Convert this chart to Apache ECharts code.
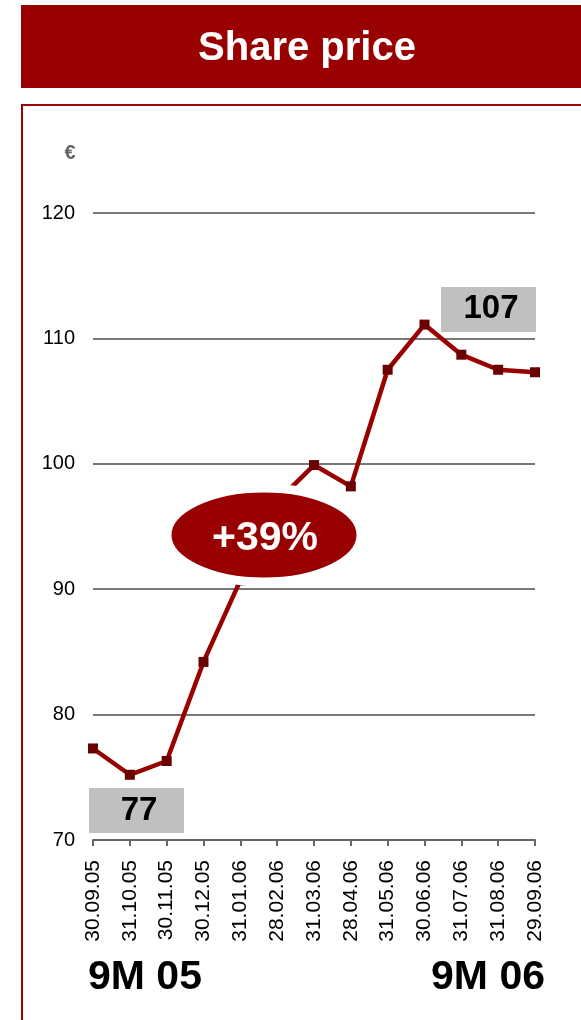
<!DOCTYPE html>
<html>
<head>
<meta charset="utf-8">
<script src="https://cdn.jsdelivr.net/npm/echarts@6/dist/echarts.min.js"></script>
<style>
  html, body { margin: 0; padding: 0; background: #fff; }
  #chart { width: 581px; height: 1020px; }
</style>
</head>
<body>
<div id="chart"></div>
<script>
// month-end closing prices, 9M 05 -> 9M 06
var dates = ['30.09.05', '31.10.05', '30.11.05', '30.12.05', '31.01.06', '28.02.06', '31.03.06',
             '28.04.06', '31.05.06', '30.06.06', '31.07.06', '31.08.06', '29.09.06'];
var prices = [77.3, 75.2, 76.3, 84.2, 90.7, 97.0, 99.9, 98.2, 107.5, 111.1, 108.7, 107.5, 107.3];
var yTicks = [70, 80, 90, 100, 110, 120];
var startLabel = '77';
var endLabel = '107';
var changeLabel = '+39%';

var red = '#990000';
var font = '"Liberation Sans", Arial, Helvetica, sans-serif';

var myChart = echarts.init(document.getElementById('chart'));
myChart.setOption({
    animation: false,
    textStyle: { fontFamily: font },
    grid: { left: 93, right: 46, top: 213, bottom: 180, containLabel: false },
    xAxis: {
        type: 'category',
        data: dates,
        boundaryGap: false,
        axisLine: { lineStyle: { color: '#666', width: 2 } },
        axisTick: { length: 6, lineStyle: { color: '#666', width: 2 } },
        axisLabel: { rotate: 90, fontSize: 21, color: '#000', margin: 20, interval: 0, fontFamily: font }
    },
    yAxis: {
        type: 'value',
        min: yTicks[0],
        max: yTicks[yTicks.length - 1],
        interval: 10,
        axisLine: { show: false },
        axisTick: { show: false },
        axisLabel: { fontSize: 20, color: '#000', margin: 18, fontFamily: font },
        splitLine: { lineStyle: { color: '#777', width: 2 } }
    },
    series: [{
        type: 'line',
        data: prices,
        symbol: 'rect',
        symbolSize: 10,
        lineStyle: { color: red, width: 4.5 },
        itemStyle: { color: '#6b0000' },
        z: 3
    }],
    graphic: [
        // title banner
        { type: 'rect', shape: { x: 21, y: 5, width: 570, height: 83 }, style: { fill: red } },
        { type: 'text', x: 307, y: 49, style: { text: 'Share price', fill: '#fff', font: 'bold 40px ' + font, textAlign: 'center', textVerticalAlign: 'middle' } },
        // chart frame
        { type: 'rect', shape: { x: 22, y: 105, width: 600, height: 1000 }, style: { fill: 'none', stroke: '#a00000', lineWidth: 2 } },
        { type: 'text', x: 70, y: 153, style: { text: '€', fill: '#666', font: 'bold 20px ' + font, textAlign: 'center', textVerticalAlign: 'middle' } },
        // value boxes
        { type: 'rect', shape: { x: 89, y: 788, width: 95, height: 45 }, style: { fill: '#c0c0c0' }, z: 10 },
        { type: 'text', x: 139, y: 811, style: { text: startLabel, fill: '#000', font: 'bold 33px ' + font, textAlign: 'center', textVerticalAlign: 'middle' }, z: 11 },
        { type: 'rect', shape: { x: 441, y: 287, width: 95, height: 45 }, style: { fill: '#c0c0c0' }, z: 10 },
        { type: 'text', x: 491, y: 309, style: { text: endLabel, fill: '#000', font: 'bold 33px ' + font, textAlign: 'center', textVerticalAlign: 'middle' }, z: 11 },
        // change bubble
        { type: 'ellipse', shape: { cx: 264, cy: 535, rx: 97, ry: 47 }, style: { fill: red, stroke: '#fff', lineWidth: 9 }, z: 10 },
        { type: 'text', x: 265, y: 539, style: { text: changeLabel, fill: '#fff', font: 'bold 41px ' + font, textAlign: 'center', textVerticalAlign: 'middle' }, z: 11 },
        // period labels
        { type: 'text', x: 88, y: 978, style: { text: '9M 05', fill: '#000', font: 'bold 41px ' + font, textAlign: 'left', textVerticalAlign: 'middle' } },
        { type: 'text', x: 545, y: 978, style: { text: '9M 06', fill: '#000', font: 'bold 41px ' + font, textAlign: 'right', textVerticalAlign: 'middle' } }
    ]
});
</script>
</body>
</html>
